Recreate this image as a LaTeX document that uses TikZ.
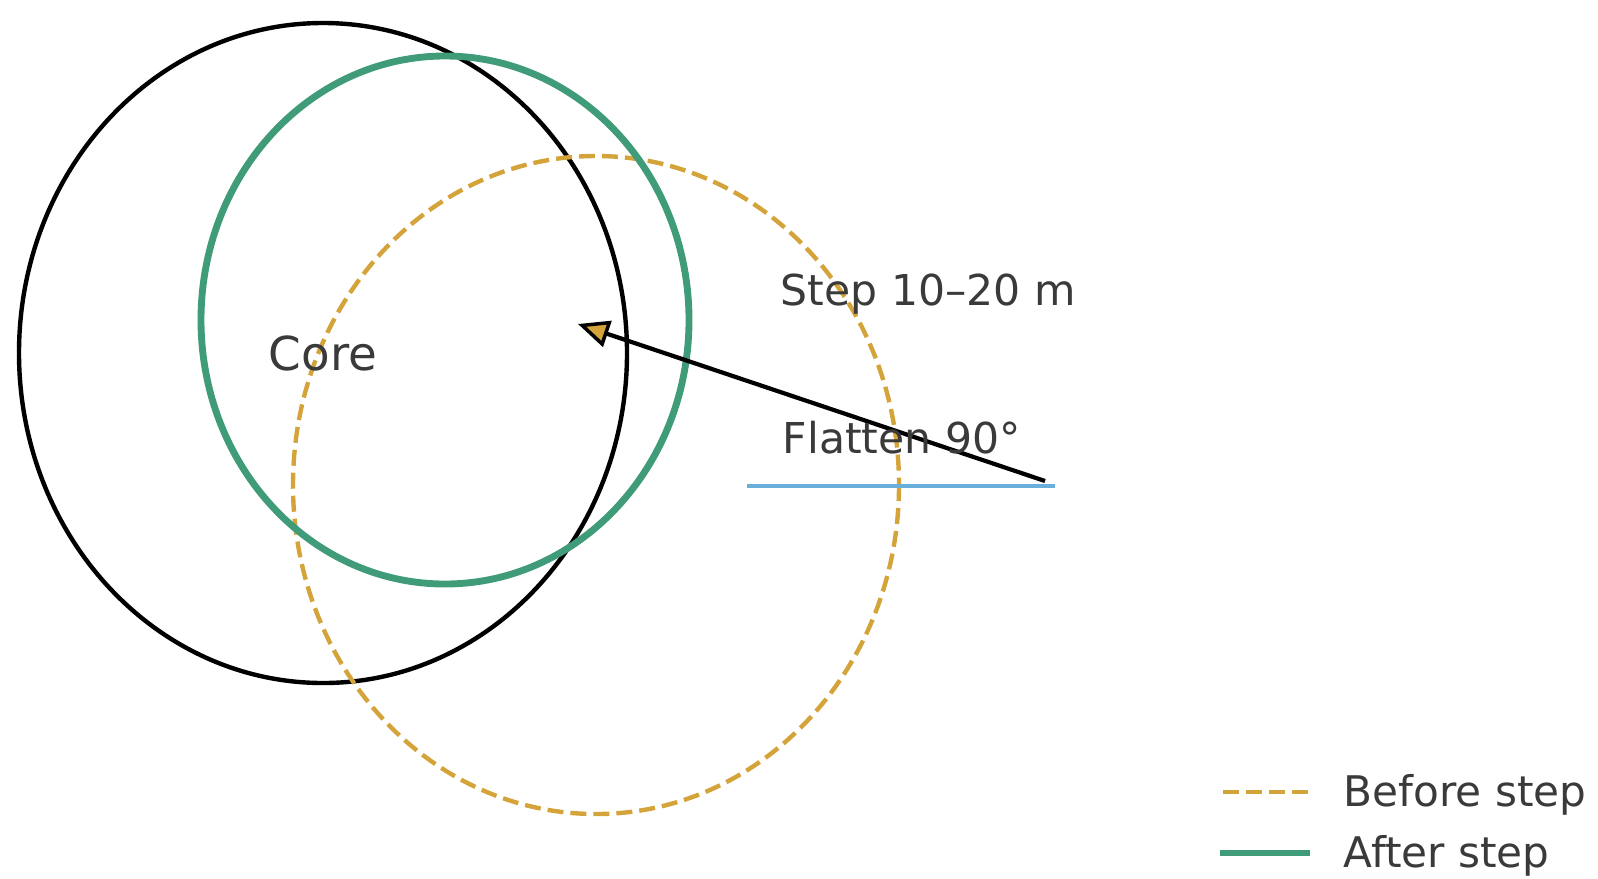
\documentclass[tikz,border=0pt]{standalone}
\usepackage{fontspec}
\setmainfont{DejaVu Sans}
\usepackage{xcolor}
\usetikzlibrary{arrows.meta, positioning}
\definecolor{beforecol}{HTML}{D4A43A}
\definecolor{aftercol}{HTML}{3F9B78}
\definecolor{flatcol}{HTML}{6AAEDC}
\definecolor{labelcol}{HTML}{3A3A3A}
\tikzset{
    core/.style={line width=1.25pt, black},                                  % Outer core boundary
    before/.style={line width=1.25pt, beforecol, dash pattern=on 1.6mm off 0.7mm}, % Position before the step
    after/.style={line width=1.95pt, aftercol},                              % Position after the step
    flatline/.style={line width=1.2pt, flatcol},                             % Flattened line
    label/.style={text=labelcol, font=\fontsize{12.1}{14}\selectfont, anchor=west, inner sep=0pt},
    legendtext/.style={text=labelcol, font=\fontsize{12}{14}\selectfont, anchor=west, inner sep=0pt}
}

\begin{document}
\begin{tikzpicture}[x=0.01cm, y=-0.01cm]
            \useasboundingbox (0,0) rectangle (1598,878);
            % Define centres
            \coordinate (cC) at (323,353);
            \coordinate (cA) at (445,320);
            \coordinate (cB) at (596,485);
            \coordinate (fL) at (747,486);
            \coordinate (fR) at (1055,486);
            \coordinate (start) at (1045,481);
            \coordinate (tip) at (578,324);

            % Draw boundaries
            \draw[core] (cC) ellipse [x radius=304, y radius=330];
            \draw[before] (cB) ellipse [x radius=303, y radius=329];
            \draw[after] (cA) ellipse [x radius=244, y radius=264];
            \draw[flatline] (fL) -- (fR);

            % Draw step arrow
            \draw[line width=1.2pt, -{Triangle[length=0.31cm, width=0.27cm, fill=beforecol, line width=1pt]}] (start) -- (tip);

            % Labels
            \node [text=labelcol, font=\fontsize{13.3}{16}\selectfont, inner sep=0pt] (core) at (cC) {Core};
            \node [label] (step) at (780,294) {Step 10–20 m};
            \node [label] (flat) at (782,438) {Flatten 90°};

            % Legend
            \coordinate (lb1) at (1223,792);
            \coordinate (lb2) at (1309,792);
            \coordinate (la1) at (1220,853);
            \coordinate (la2) at (1310,853);
            \draw[before] (lb1) -- (lb2);
            \draw[after] (la1) -- (la2);
            \node [legendtext, right = 0.34cm of lb2, yshift=-0.03cm] (lbefore) {Before step};
            \node [legendtext, right = 0.33cm of la2, yshift=-0.03cm] (lafter) {After step};
        \end{tikzpicture}
\end{document}
